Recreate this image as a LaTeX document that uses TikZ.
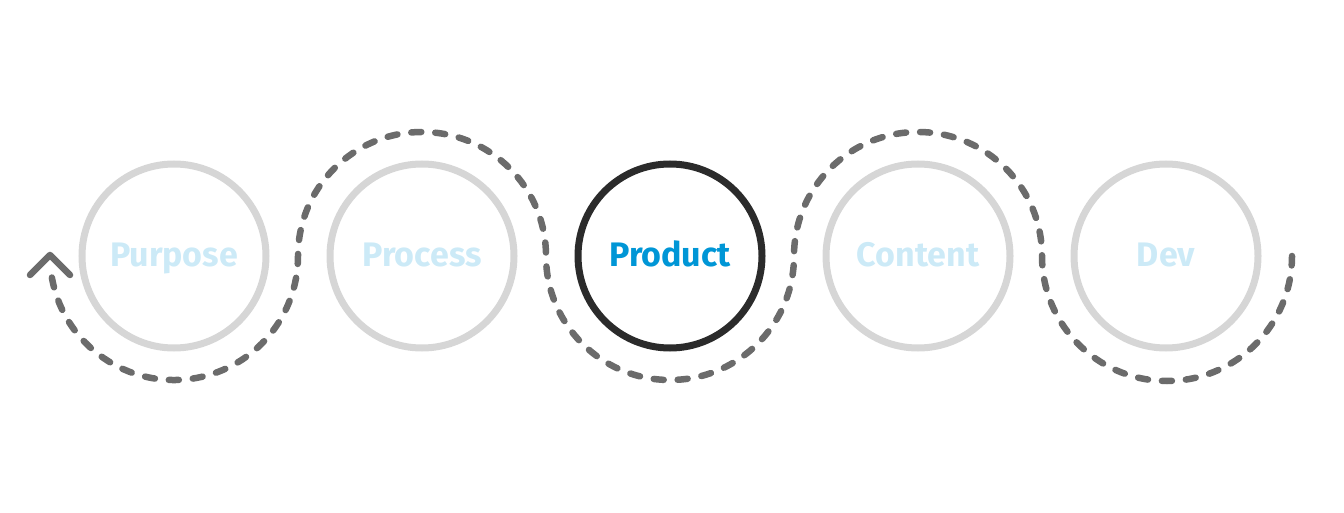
\documentclass[tikz,border=0pt]{standalone}
\usepackage{fontspec}
\setmainfont{Fira Sans}
\usetikzlibrary{calc}
\definecolor{ringgray}{HTML}{D6D6D6}
\definecolor{ringdark}{HTML}{2B2B2B}
\definecolor{flowgray}{HTML}{6B6B6B}
\definecolor{labelblue}{HTML}{0096D6}
\definecolor{labelpale}{HTML}{CCEAF7}
\tikzset{
  stage/.style={circle,draw=ringgray,line width=7pt,minimum size=184pt,
    inner sep=0pt,text=labelpale,text height=24pt,text depth=2pt,
    font=\fontsize{34}{34}\selectfont\bfseries},
  current/.style={stage,draw=ringdark,text=labelblue},
  flow/.style={draw=flowgray,line width=6.5pt,line cap=round,
    dash pattern=on 10pt off 14pt},
  tip/.style={draw=flowgray,line width=6.5pt,line cap=round,line join=round}
}

\begin{document}
\begin{tikzpicture}[x=1pt,y=1pt]
    \useasboundingbox (0,0) rectangle (1344,512);
    \node[stage] (purpose) at (174,256) {Purpose};
    \node[stage] (process) at (422,256) {Process};
    \node[current] (product) at (670,256) {Product};
    \node[stage] (content) at (918,256) {Content};
    \node[stage] (dev) at (1166,256) {Dev};
    % dashed loop round the stages
    \draw[flow] ([shift={(190:124)}]purpose.center)
    arc[start angle=190,end angle=360,radius=124]
    arc[start angle=180,end angle=0,radius=124]
    arc[start angle=180,end angle=360,radius=124]
    arc[start angle=180,end angle=0,radius=124]
    arc[start angle=180,end angle=360,radius=125];
    \coordinate (head) at ($(purpose.center)+(-124,1)$);
    \draw[tip] ($(head)+(-20,-20)$) -- (head) -- ($(head)+(20,-20)$);
\end{tikzpicture}
\end{document}
